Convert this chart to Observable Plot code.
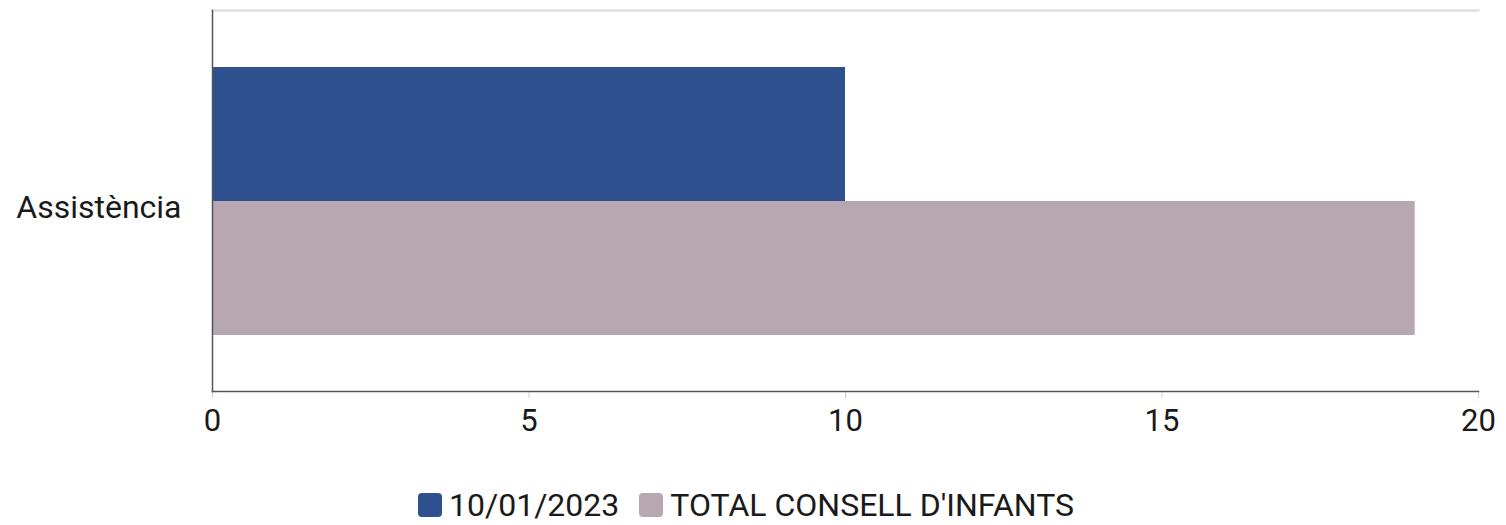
<!DOCTYPE html>
<html>
<head>
<meta charset="utf-8">
<script src="https://cdn.jsdelivr.net/npm/d3@7"></script>
<script src="https://cdn.jsdelivr.net/npm/@observablehq/plot@0.6"></script>
<style>
  html, body { margin: 0; padding: 0; background: #fff; }
  body { width: 1506px; font-family: Roboto, sans-serif; }
  .legend { display: flex; justify-content: center; align-items: center; margin-top: 19px; padding-right: 14px; font-size: 32px; line-height: 1; color: #1a1a1a; font-family: Roboto, sans-serif; }
  .legend .item { display: flex; align-items: center; margin: 0 10px; }
  .legend .sw { width: 24px; height: 24px; border-radius: 4px; margin-right: 7px; }
</style>
</head>
<body>
<div id="chart"></div>
<script>
const categories = ["Assistència"];
const series = ["10/01/2023", "TOTAL CONSELL D'INFANTS"];
const values = [10, 19];
const colors = ["#2e508e", "#b6a7b0"];
const xTicks = [0, 5, 10, 15, 20];

const data = series.map((s, i) => ({category: categories[0], series: s, value: values[i]}));

const plot = Plot.plot({
  width: 1506,
  height: 470,
  marginLeft: 212,
  marginRight: 28,
  marginTop: 10,
  marginBottom: 79,
  style: {fontFamily: "Roboto, sans-serif", fontSize: "31px", color: "#1a1a1a", background: "#fff"},
  x: {domain: [0, 20], ticks: xTicks, label: null},
  y: {domain: series, axis: null, paddingInner: 0, paddingOuter: 0.4216},
  fy: {domain: categories, label: null, padding: 0},
  color: {domain: series, range: colors},
  marks: [
    Plot.frame({anchor: "top", stroke: "#d9d9d9", strokeWidth: 2}),
    Plot.barX(data, {x: "value", y: "series", fy: "category", fill: "series"}),
    Plot.axisFy({tickSize: 0, tickPadding: 31, label: null, fontSize: 32, anchor: "left", dy: 7}),
    Plot.axisX({ticks: xTicks, tickSize: 7, tickPadding: 10, stroke: "#d0d0d0", strokeOpacity: 1, fontSize: 31, label: null, tickFormat: d => String(d)}),
    Plot.frame({anchor: "left", stroke: "#555", strokeWidth: 1.5}),
    Plot.frame({anchor: "bottom", stroke: "#555", strokeWidth: 1.5})
  ]
});
document.getElementById("chart").appendChild(plot);

const legend = document.createElement("div");
legend.className = "legend";
series.forEach((s, i) => {
  const item = document.createElement("div");
  item.className = "item";
  const sw = document.createElement("div");
  sw.className = "sw";
  sw.style.background = colors[i];
  const t = document.createElement("span");
  t.textContent = s;
  item.appendChild(sw);
  item.appendChild(t);
  legend.appendChild(item);
});
document.body.appendChild(legend);
</script>
</body>
</html>
